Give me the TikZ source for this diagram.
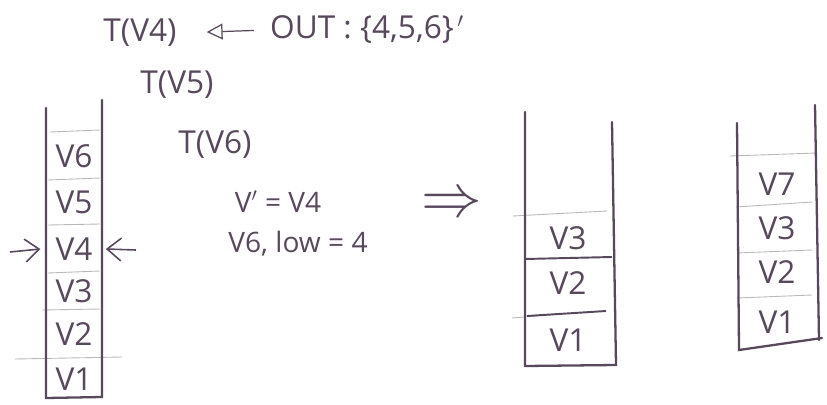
\documentclass[tikz,border=0pt]{standalone}
\usepackage{fontspec}
\setmainfont{Open Sans}
\usetikzlibrary{arrows.meta, positioning}
\definecolor{ink}{RGB}{88,72,92}
\tikzset{
    font=\rmfamily,
    >=Stealth,
    % Lines
    wall/.style={draw=ink, line width=1.3pt, line cap=round},
    divider/.style={draw=gray!55, line width=0.5pt},
    bar/.style={draw=ink, line width=1.1pt},
    % Texts
    cell/.style={text=ink, font=\fontsize{18}{20}\selectfont, minimum width=1.12cm, inner sep=0pt},
    note/.style={text=ink, font=\fontsize{18}{20}\selectfont, inner sep=1pt},
    small/.style={text=ink, font=\fontsize{16}{18}\selectfont, inner sep=1pt},
    % Arrows
    pointer/.style={->, ink, line width=0.9pt, >={Straight Barb[length=8pt, width=13pt]}},
    back/.style={-{Triangle[open, length=9pt, width=9pt]}, ink, line width=0.7pt}
}
\begin{document}
\begin{tikzpicture}[x=0.02cm, y=-0.02cm]
\useasboundingbox (0,0) rectangle (827,405);

% Notes
\node[note] (tv4) at (140,33) {T(V4)};
\node[note, anchor=west] (outset) at (268,30) {OUT : \{4,5,6\}$^{\,\prime}$};
\node[note] (tv5) at (177,85) {T(V5)};
\node[note] (tv6) at (215,145) {T(V6)};
\node[small] (vprime) at (278,202) {V$'$ = V4};
\node[small] (vlow) at (298,244) {V6, low = 4};
\node[note] (impl) at (452,205) {\scalebox{2}{$\Rightarrow$}};

\draw[back, shorten <=8pt, shorten >=16pt] (outset.west) -- (tv4.east);

% Stack before
\node[cell] (a6) at (74,156) {V6};
\node[cell] (a5) at (74,202) {V5};
\node[cell] (a4) at (74,249) {V4};
\node[cell] (a3) at (74,291) {V3};
\node[cell] (a2) at (74,334) {V2};
\node[cell] (a1) at (74,379) {V1};

\draw[divider] (50,132) -- (100,130);
\draw[divider] (48,180) -- (100,178);
\draw[divider] (48,225) -- (100,224);
\draw[divider] (48,273) -- (100,271);
\draw[divider] (42,310) -- (100,309);
\draw[divider] (15,359) -- (122,357);
\draw[wall] (46,108) -- (46,398) -- (102,397) -- (102,100);

\coordinate (inL) at (10,252);
\coordinate (inR) at (136,250);
\draw[pointer] (inL) -- ([xshift=-3pt]a4.west);
\draw[pointer] (inR) -- ([xshift=2pt]a4.east);

% Stack after
\node[cell] (b3) at (568,238) {V3};
\node[cell] (b2) at (568,283) {V2};
\node[cell] (b1) at (568,340) {V1};

\draw[divider] (513,216) -- (607,211);
\draw[bar] (525,259) -- (612,257);
\draw[divider] (512,318) -- (560,314);
\draw[bar] (527,316) -- (606,311);
\draw[wall] (525,112) -- (525,366) -- (616,365) -- (612,122);

% Stack with V7
\node[cell] (c7) at (777,184) {V7};
\node[cell] (c3) at (777,228) {V3};
\node[cell] (c2) at (777,272) {V2};
\node[cell] (c1) at (777,322) {V1};

\draw[divider] (730,156) -- (817,153);
\draw[divider] (736,207) -- (812,202);
\draw[divider] (737,253) -- (812,250);
\draw[divider] (737,298) -- (812,295);
\draw[wall] (737,123) -- (739,350) -- (822,338);
\draw[wall] (815,105) -- (819,340);

\end{tikzpicture}
\end{document}
